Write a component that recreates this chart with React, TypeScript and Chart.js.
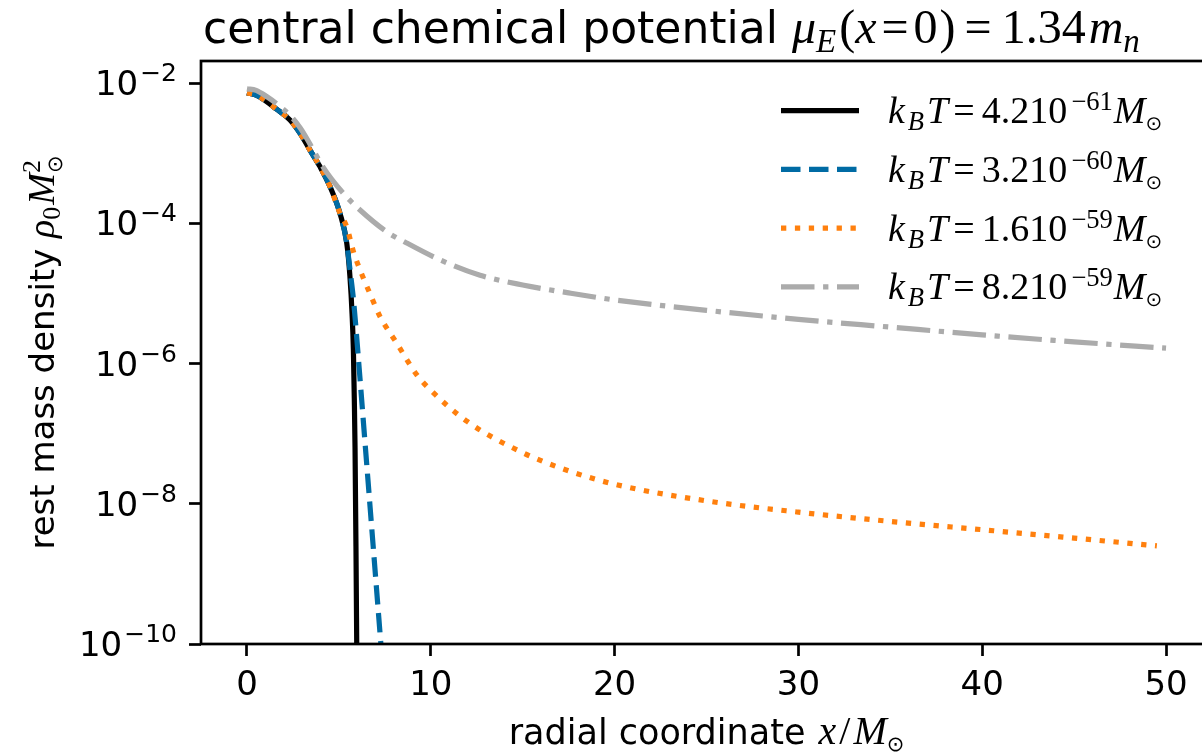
import React, { useEffect, useRef } from "react";
import { Chart, registerables } from "chart.js";
Chart.register(...registerables);

// ---------- data ----------
const X_MIN = -2.5;
const X_MAX = 52.5;
const Y_MIN = 1e-10;
const Y_MAX = 2.07e-2;
const xTickValues = [0, 10, 20, 30, 40, 50];
const yTickValues = [1e-2, 1e-4, 1e-6, 1e-8, 1e-10];
const yTickExponents = ["\u22122", "\u22124", "\u22126", "\u22128", "\u221210"];

const blackX = [0, 0.5, 1.07, 1.6, 2.34, 2.9, 3.43, 3.97, 4.52, 5.06, 5.43, 5.6, 5.72, 5.79, 5.84, 5.88, 5.93, 5.97, 6.0];
const blackY = [7.24e-3, 6.76e-3, 5.45e-3, 4.27e-3, 2.99e-3, 1.91e-3, 1.11e-3, 6.46e-4, 3.34e-4, 1.39e-4, 5.2e-5, 1.78e-5, 5.0e-6, 1.58e-6, 3.16e-7, 6.3e-8, 2.5e-9, 1.12e-10, 1e-11];

const blueX = [0, 0.5, 1.07, 1.6, 2.34, 2.9, 3.43, 3.97, 4.52, 5.06, 5.43, 5.6, 5.8, 6.1, 6.4, 6.7, 7.0, 7.3, 7.5];
const blueY = [7.24e-3, 6.76e-3, 5.45e-3, 4.27e-3, 2.99e-3, 1.91e-3, 1.11e-3, 6.46e-4, 3.34e-4, 1.39e-4, 5.2e-5, 2.24e-5, 7.9e-6, 8.9e-7, 8.9e-8, 8.9e-9, 8.9e-10, 8.9e-11, 1.8e-11];

const orangeX = [0, 0.5, 1.07, 1.6, 2.34, 2.9, 3.43, 3.97, 4.52, 5.06, 5.43, 5.79, 6.33, 6.69, 7.24, 8.15, 9.24, 10, 12, 15, 17.5, 20, 25, 30, 35, 40, 45, 49.5];
const orangeY = [7.24e-3, 6.76e-3, 5.45e-3, 4.27e-3, 2.99e-3, 1.91e-3, 1.11e-3, 6.46e-4, 3.34e-4, 1.39e-4, 8.9e-5, 3.98e-5, 1.66e-5, 1.0e-5, 4.68e-6, 1.95e-6, 6.9e-7, 4.17e-7, 1.48e-7, 5.37e-8, 2.95e-8, 1.9e-8, 1.1e-8, 7.6e-9, 5.6e-9, 4.27e-9, 3.24e-9, 2.51e-9];

const grayX = [0, 0.5, 1.07, 1.6, 2.34, 2.9, 3.43, 4.15, 5.24, 6.15, 7.6, 8.69, 10.5, 12.68, 15, 17.5, 20, 25, 30, 35, 40, 45, 50];
const grayY = [8.3e-3, 7.9e-3, 6.46e-3, 5.13e-3, 3.47e-3, 2.29e-3, 1.35e-3, 6.3e-4, 2.69e-4, 1.55e-4, 7.6e-5, 5.25e-5, 3.02e-5, 1.82e-5, 1.32e-5, 1.02e-5, 8.1e-6, 5.75e-6, 4.27e-6, 3.31e-6, 2.57e-6, 2.04e-6, 1.66e-6];

const seriesMantissa = ["4.2", "3.2", "1.6", "8.2"];
const seriesExponent = ["\u221261", "\u221260", "\u221259", "\u221259"];
const seriesColors = ["#000000", "#006BA4", "#FF800E", "#ABABAB"];
const LW = 5.2;
const seriesDash: number[][] = [[], [19.5, 8.5], [5.3, 8.6], [33.5, 8.6, 5.3, 8.6]];

// ---------- text helpers ----------
const SANS = '"DejaVu Sans", sans-serif';
const SERIF = '"Liberation Serif", "DejaVu Serif", serif';
const SYM = '"DejaVu Sans", sans-serif';
const fnt = (style: string, size: number, fam: string) => `${style} ${size}px ${fam}`;

type Seg = { t: string; f: string; dy?: number; pre?: number; noAdv?: boolean };

function drawRich(ctx: CanvasRenderingContext2D, segs: Seg[], x: number, y: number, align: "left" | "center" | "right") {
  const ws = segs.map((s) => {
    ctx.font = s.f;
    return ctx.measureText(s.t).width;
  });
  let total = 0;
  segs.forEach((s, i) => {
    total += (s.pre || 0) + (s.noAdv ? 0 : ws[i]);
  });
  let cx = align === "left" ? x : align === "center" ? x - total / 2 : x - total;
  ctx.textAlign = "left";
  ctx.textBaseline = "alphabetic";
  segs.forEach((s, i) => {
    cx += s.pre || 0;
    ctx.font = s.f;
    ctx.fillText(s.t, cx, y + (s.dy || 0));
    if (!s.noAdv) cx += ws[i];
  });
  return total;
}

function legendSegs(i: number): Seg[] {
  const S = 38;
  const s = 26.6;
  return [
    { t: "k", f: fnt("italic", S, SERIF) },
    { t: "B", f: fnt("italic", s, SERIF), dy: 7, pre: 3 },
    { t: "T", f: fnt("italic", S, SERIF), pre: 3 },
    { t: "=", f: fnt("", S, SERIF), pre: 5 },
    { t: seriesMantissa[i] + "10", f: fnt("", S, SERIF), pre: 7 },
    { t: seriesExponent[i], f: fnt("", s, SERIF), dy: -13, pre: 4 },
    { t: "M", f: fnt("italic", S, SERIF), pre: 1 },
    { t: "\u2299", f: fnt("", 20, SYM), dy: 7 },
  ];
}

const textPlugin = {
  id: "mplText",
  afterDraw(chart: any) {
    const ctx: CanvasRenderingContext2D = chart.ctx;
    const { left, top, right, bottom } = chart.chartArea;
    ctx.save();
    // spines
    ctx.strokeStyle = "#000";
    ctx.lineWidth = 2.7;
    ctx.strokeRect(left, top, right - left, bottom - top);
    ctx.fillStyle = "#000";

    // x tick labels
    const xs = chart.scales.x;
    ctx.font = fnt("", 34, SANS);
    ctx.textAlign = "center";
    ctx.textBaseline = "alphabetic";
    xs.ticks.forEach((t: any) => {
      ctx.fillText(String(t.value), xs.getPixelForValue(t.value), 695);
    });

    // y tick labels
    const ys = chart.scales.y;
    ys.ticks.forEach((t: any, i: number) => {
      const py = ys.getPixelForValue(t.value);
      drawRich(
        ctx,
        [
          { t: "10", f: fnt("", 34, SANS) },
          { t: yTickExponents[i], f: fnt("", 25, SANS), dy: -14, pre: 2 },
        ],
        177,
        py + 12,
        "right"
      );
    });

    // title
    const T = 44;
    const TM = 48;
    const TS = 33;
    drawRich(
      ctx,
      [
        { t: "central chemical potential ", f: fnt("", T, SANS) },
        { t: "\u03bc", f: fnt("italic", TM, SERIF) },
        { t: "E", f: fnt("italic", TS, SERIF), dy: 9 },
        { t: "(", f: fnt("", TM, SERIF), pre: 3 },
        { t: "x", f: fnt("italic", TM, SERIF) },
        { t: "=", f: fnt("", TM, SERIF), pre: 5 },
        { t: "0", f: fnt("", TM, SERIF), pre: 5 },
        { t: ")", f: fnt("", TM, SERIF), pre: 2 },
        { t: "=", f: fnt("", TM, SERIF), pre: 9 },
        { t: "1.34", f: fnt("", TM, SERIF), pre: 10 },
        { t: "m", f: fnt("italic", TM, SERIF), pre: 3 },
        { t: "n", f: fnt("italic", TS, SERIF), dy: 9 },
      ],
      203,
      43,
      "left"
    );

    // x label
    drawRich(
      ctx,
      [
        { t: "radial coordinate ", f: fnt("", 35, SANS) },
        { t: "x", f: fnt("italic", 40, SERIF), pre: 2 },
        { t: "/", f: fnt("", 40, SERIF), pre: 3 },
        { t: "M", f: fnt("italic", 40, SERIF), pre: 3 },
        { t: "\u2299", f: fnt("", 21, SYM), dy: 7 },
      ],
      (left + right) / 2,
      744,
      "center"
    );

    // y label
    ctx.save();
    ctx.translate(54, (top + bottom) / 2);
    ctx.rotate(-Math.PI / 2);
    drawRich(
      ctx,
      [
        { t: "rest mass density ", f: fnt("", 34, SANS) },
        { t: "\u03c1", f: fnt("italic", 38, SERIF) },
        { t: "0", f: fnt("", 26, SERIF), dy: 6 },
        { t: "M", f: fnt("italic", 38, SERIF), pre: 2 },
        { t: "2", f: fnt("", 26, SERIF), dy: -14, noAdv: true },
        { t: "\u2299", f: fnt("", 21, SYM), dy: 8 },
      ],
      0,
      0,
      "center"
    );
    ctx.restore();

    // legend
    for (let i = 0; i < 4; i++) {
      const ry = 110.7 + i * 58.7;
      ctx.save();
      ctx.strokeStyle = seriesColors[i];
      ctx.lineWidth = LW;
      ctx.lineCap = "butt";
      ctx.setLineDash(seriesDash[i]);
      ctx.beginPath();
      ctx.moveTo(781, ry);
      ctx.lineTo(859, ry);
      ctx.stroke();
      ctx.restore();
      ctx.fillStyle = "#000";
      drawRich(ctx, legendSegs(i), 888, ry + 12.6, "left");
    }
    ctx.restore();
  },
};

function toPoints(xs: number[], ys: number[]) {
  return xs.map((x, i) => ({ x, y: ys[i] }));
}

export default function App() {
  const ref = useRef<HTMLCanvasElement | null>(null);
  useEffect(() => {
    document.body.style.margin = "0";
    document.body.style.background = "#ffffff";
    const canvas = ref.current;
    if (!canvas) return;
    const series = [
      { label: "black", xs: blackX, ys: blackY },
      { label: "blue", xs: blueX, ys: blueY },
      { label: "orange", xs: orangeX, ys: orangeY },
      { label: "gray", xs: grayX, ys: grayY },
    ];
    const chart = new Chart(canvas, {
      type: "line",
      data: {
        datasets: series.map((s, i) => ({
          label: s.label,
          data: toPoints(s.xs, s.ys),
          borderColor: seriesColors[i],
          backgroundColor: seriesColors[i],
          borderWidth: LW,
          borderDash: seriesDash[i],
          borderCapStyle: "butt",
          borderJoinStyle: "round",
          pointRadius: 0,
          fill: false,
          cubicInterpolationMode: "monotone",
          order: 4 - i,
        })),
      },
      options: {
        animation: false,
        responsive: false,
        devicePixelRatio: 1,
        events: [],
        layout: { padding: { top: 61, right: 2, left: 0, bottom: 0 } },
        plugins: { legend: { display: false }, title: { display: false }, tooltip: { enabled: false } },
        scales: {
          x: {
            type: "linear",
            min: X_MIN,
            max: X_MAX,
            afterBuildTicks: (scale: any) => {
              scale.ticks = xTickValues.map((v) => ({ value: v }));
            },
            afterFit: (scale: any) => {
              scale.height = 111;
            },
            ticks: { display: false },
            border: { display: false },
            grid: {
              drawOnChartArea: false,
              drawTicks: true,
              tickLength: 12,
              tickWidth: 2.7,
              tickColor: "#000",
              color: "#000",
            },
          },
          y: {
            type: "logarithmic",
            min: Y_MIN,
            max: Y_MAX,
            afterBuildTicks: (scale: any) => {
              scale.ticks = yTickValues.map((v) => ({ value: v }));
            },
            afterFit: (scale: any) => {
              scale.width = 201;
            },
            ticks: { display: false },
            border: { display: false },
            grid: {
              drawOnChartArea: false,
              drawTicks: true,
              tickLength: 12,
              tickWidth: 2.7,
              tickColor: "#000",
              color: "#000",
            },
          },
        },
      },
      plugins: [textPlugin],
    } as any);
    return () => chart.destroy();
  }, []);
  return (
    <div style={{ width: 1202, height: 755, overflow: "hidden", position: "relative", background: "#fff" }}>
      <canvas ref={ref} width={1214} height={755} style={{ display: "block", position: "absolute", left: 0, top: 0 }} />
    </div>
  );
}
